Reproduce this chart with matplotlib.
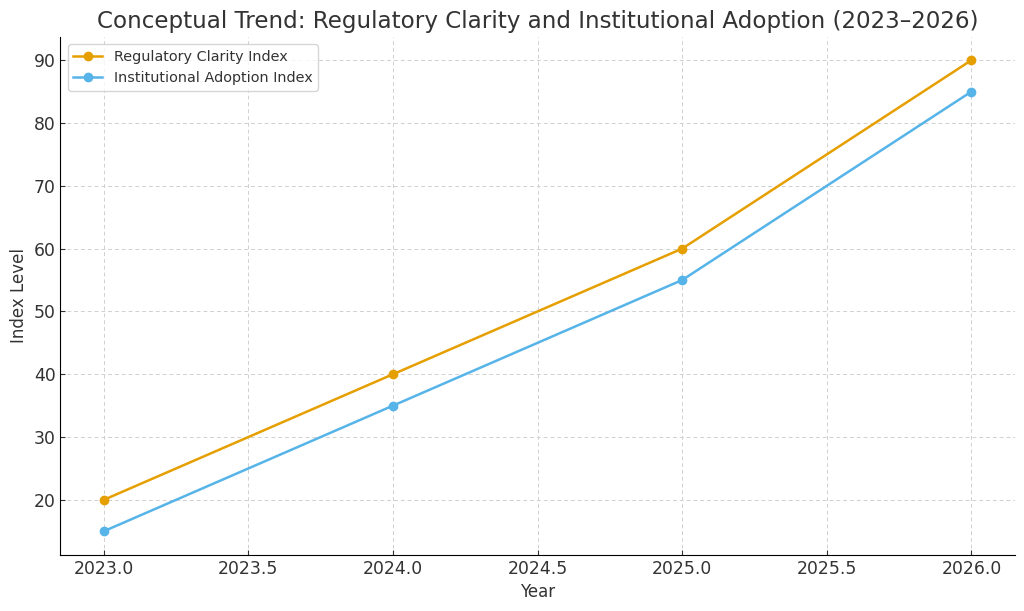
import matplotlib.pyplot as plt

years = [2023, 2024, 2025, 2026]
regulatory = [20, 40, 60, 90]
institutional = [15, 35, 55, 85]

plt.rcParams['font.family'] = ['DejaVu Sans']
plt.rcParams['text.color'] = '#333333'
plt.rcParams['axes.labelcolor'] = '#333333'
plt.rcParams['xtick.color'] = '#333333'
plt.rcParams['ytick.color'] = '#333333'

fig, ax = plt.subplots(figsize=(10.24, 6.11), dpi=100)
fig.subplots_adjust(left=0.059, right=0.991, top=0.94, bottom=0.092)

ax.plot(years, regulatory, '-o', color='#E69F00', lw=1.8, ms=6, label='Regulatory Clarity Index')
ax.plot(years, institutional, '-o', color='#56B4E9', lw=1.8, ms=6, label='Institutional Adoption Index')

ax.set_title('Conceptual Trend: Regulatory Clarity and Institutional Adoption (2023\u20132026)', fontsize=16.6)
ax.set_xlabel('Year', fontsize=12)
ax.set_ylabel('Index Level', fontsize=12)
ax.tick_params(direction='in', labelsize=12.4)
ax.grid(True, linestyle=(0, (4, 3)), color='#d0d0d0', lw=0.7)
for pos in ['right', 'top']:
    ax.spines[pos].set_visible(False)
ax.legend(loc='upper left', fontsize=10.4)

fig.savefig('out.png')
